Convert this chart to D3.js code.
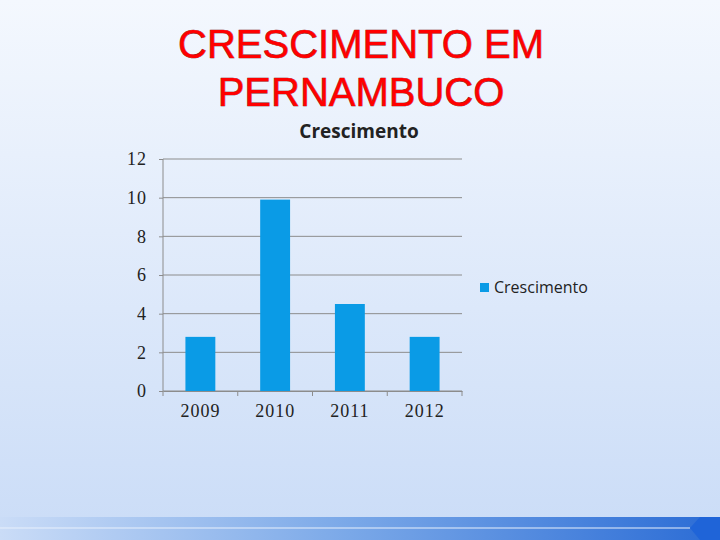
<!DOCTYPE html>
<html><head><meta charset="utf-8">
<script src="https://cdn.jsdelivr.net/npm/d3@7"></script>
<style>body{margin:0;}svg{display:block;}</style>
</head><body>
<script>
const categories = ["2009","2010","2011","2012"];
const values = [2.8, 9.9, 4.5, 2.8];
const yTicks = [0,2,4,6,8,10,12];
const seriesName = "Crescimento";

const svg = d3.select("body").append("svg").attr("width",720).attr("height",540);
const defs = svg.append("defs");
const bg = defs.append("linearGradient").attr("id","bg").attr("x1",0).attr("y1",0).attr("x2",0).attr("y2",1);
bg.append("stop").attr("offset","0%").attr("stop-color","#f4f8fe");
bg.append("stop").attr("offset","100%").attr("stop-color","#cadcf7");
const bb = defs.append("linearGradient").attr("id","bb").attr("x1",0).attr("y1",0).attr("x2",1).attr("y2",0);
bb.append("stop").attr("offset","0%").attr("stop-color","#cadcf7");
bb.append("stop").attr("offset","50%").attr("stop-color","#7aa8e8");
bb.append("stop").attr("offset","100%").attr("stop-color","#2f6fd6");
svg.append("rect").attr("width",720).attr("height",540).attr("fill","url(#bg)");
svg.append("rect").attr("x",0).attr("y",517).attr("width",700).attr("height",23).attr("fill","url(#bb)");
svg.append("line").attr("x1",0).attr("x2",690).attr("y1",528).attr("y2",528).attr("stroke","#e8f0fc").attr("stroke-width",1);
svg.append("path").attr("d","M700,517 L720,517 L720,540 L700,540 L690,528 Z").attr("fill","#1f64d8");

[["CRESCIMENTO EM",58],["PERNAMBUCO",106]].forEach(([t,yy])=>{
 svg.append("text").attr("x",361).attr("y",yy).attr("text-anchor","middle").attr("font-family","Liberation Sans, Arial").attr("font-size",40)
  .attr("fill","#ff0000").attr("stroke","#7a1010").attr("stroke-width",0.6).attr("paint-order","stroke").text(t);
});

const x = d3.scaleBand().domain(categories).range([163,462]).paddingInner(0.6).paddingOuter(0.3);
const y = d3.scaleLinear().domain([0,12]).range([391,159]);
const g = svg.append("g");
g.selectAll(".grid").data(yTicks).join("line").attr("x1",163).attr("x2",462)
 .attr("y1",d=>y(d)).attr("y2",d=>y(d)).attr("stroke","#8c8c8c").attr("stroke-width",1);
g.selectAll(".bar").data(values).join("rect").attr("x",(d,i)=>x(categories[i])).attr("width",x.bandwidth())
 .attr("y",d=>y(d)).attr("height",d=>y(0)-y(d)).attr("fill","#0a9be6");
const ya = g.append("g").attr("transform","translate(163,0)").call(d3.axisLeft(y).tickValues(yTicks).tickSize(4).tickPadding(12));
const xa = g.append("g").attr("transform","translate(0,391)").call(d3.axisBottom(x).tickSize(0).tickPadding(13));
[ya,xa].forEach(a=>{a.selectAll("path,line").attr("stroke","#8c8c8c");a.selectAll("text").attr("font-family","Liberation Serif, serif").attr("font-size",18).attr("letter-spacing",1).attr("fill","#222");});
ya.select(".domain").remove();
g.append("line").attr("x1",163).attr("x2",163).attr("y1",159).attr("y2",391).attr("stroke","#8c8c8c");
const bx=[163].concat(categories.map(c=>x(c)+x.bandwidth()/2+x.step()/2));
g.selectAll(".xt").data(bx).join("line").attr("x1",d=>d).attr("x2",d=>d).attr("y1",391).attr("y2",396).attr("stroke","#8c8c8c");

svg.append("text").attr("x",359).attr("y",138).attr("text-anchor","middle").attr("font-family","Open Sans, sans-serif").attr("font-weight","bold").attr("font-size",19).attr("fill","#222").text("Crescimento");
svg.append("rect").attr("x",480).attr("y",283).attr("width",9).attr("height",9).attr("fill","#0a9be6");
svg.append("text").attr("x",494).attr("y",293).attr("font-family","Open Sans, sans-serif").attr("font-size",16).attr("fill","#222").text(seriesName);
</script>
</body></html>
